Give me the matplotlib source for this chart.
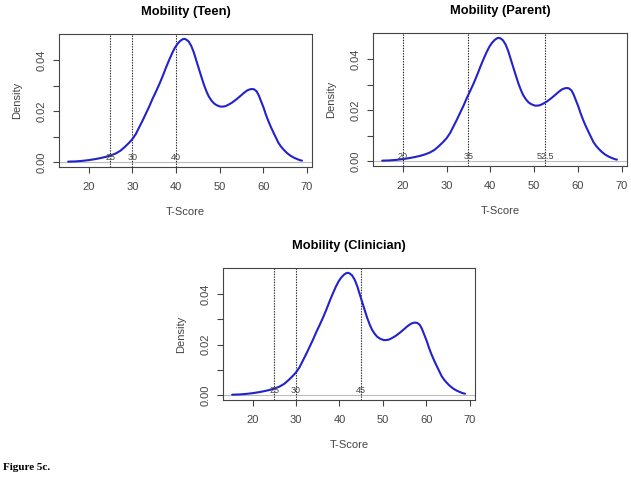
import matplotlib
matplotlib.use("Agg")
import matplotlib.pyplot as plt

# Density curve (same in all panels)
t_score = [15.3, 17.0, 18.5, 20.0, 21.5, 22.7, 24.0, 25.0, 26.2, 27.3, 28.3, 29.2,
           30.0, 30.8, 31.5, 32.3, 33.1, 33.9, 34.6, 35.4, 36.2, 37.0, 37.7, 38.5,
           39.2, 39.8, 40.4, 41.0, 41.5, 41.9, 42.3, 42.9, 43.5, 44.1, 44.8, 45.6,
           46.4, 47.0, 47.5, 48.1, 48.7, 49.4, 50.2, 50.8, 51.4, 52.1, 52.9, 53.9,
           54.8, 55.6, 56.4, 57.0, 57.5, 57.9, 58.5, 59.0, 59.5, 60.1, 60.6, 61.2,
           61.8, 62.4, 63.0, 63.5, 64.1, 64.7, 65.4, 66.2, 67.0, 67.8, 68.4, 68.9]
density = [0.0002, 0.0003, 0.0005, 0.0008, 0.0012, 0.0016, 0.0021, 0.0026, 0.0034, 0.0045, 0.0060, 0.0075,
           0.0090, 0.0110, 0.0134, 0.0161, 0.0190, 0.0219, 0.0247, 0.0276, 0.0306, 0.0339, 0.0370, 0.0403,
           0.0430, 0.0450, 0.0465, 0.0476, 0.0482, 0.0484, 0.0482, 0.0474, 0.0457, 0.0431, 0.0392, 0.0348,
           0.0305, 0.0278, 0.0259, 0.0243, 0.0231, 0.0223, 0.0218, 0.0218, 0.0220, 0.0226, 0.0234, 0.0247,
           0.0260, 0.0272, 0.0282, 0.0286, 0.0287, 0.0286, 0.0278, 0.0262, 0.0240, 0.0214, 0.0188, 0.0161,
           0.0137, 0.0115, 0.0094, 0.0076, 0.0061, 0.0049, 0.0037, 0.0026, 0.0018, 0.0012, 0.0008, 0.0006]

titles = ["Mobility (Teen)", "Mobility (Parent)", "Mobility (Clinician)"]
cutoffs = [[25, 30, 40], [20, 35, 52.5], [25, 30, 45]]
cutoff_labels = [["25", "30", "40"], ["20", "35", "52.5"], ["25", "30", "45"]]
x_ticks = [20, 30, 40, 50, 60, 70]
y_ticks = [0.00, 0.01, 0.02, 0.03, 0.04]
y_tick_labels = ["0.00", "", "0.02", "", "0.04"]

plt.rcParams["font.family"] = ["Liberation Sans", "DejaVu Sans"]

fig = plt.figure(figsize=(6.31, 4.82), dpi=100)
W, H = 631, 482
boxes = [(59, 34, 312, 167), (373, 33, 627, 166), (223, 268, 475, 400)]

axis_col = "#444444"
for i, (x0, y0, x1, y1) in enumerate(boxes):
    ax = fig.add_axes([x0 / W, 1 - y1 / H, (x1 - x0) / W, (y1 - y0) / H])
    ax.plot(t_score, density, color="#2222cc", lw=1.5, zorder=3,
            solid_joinstyle="round", solid_capstyle="round")
    ax.axhline(0, color="#bbbbbb", lw=0.8, zorder=1)
    for c, lab in zip(cutoffs[i], cutoff_labels[i]):
        ax.axvline(c, color="#222222", lw=0.8, ls=(0, (1.2, 1.2)), zorder=2)
        ax.text(c, 0.0, lab, ha="center", va="bottom", fontsize=6.5,
                color="#444444", zorder=4)
    ax.set_xlim(13.2, 71.2)
    ax.set_ylim(-0.0019, 0.0503)
    ax.set_xticks(x_ticks)
    ax.set_yticks(y_ticks)
    ax.set_yticklabels(y_tick_labels, rotation=90, va="center")
    ax.tick_params(direction="out", length=4, width=0.8, colors=axis_col,
                   labelsize=8, labelcolor="#444444")
    ax.tick_params(axis="x", pad=6.5)
    ax.tick_params(axis="y", pad=5)
    for s in ax.spines.values():
        s.set_color(axis_col)
        s.set_linewidth(0.8)
    ax.set_xlabel("T-Score", fontsize=8, color="#444444", labelpad=11)
    ax.set_ylabel("Density", fontsize=8, color="#444444", labelpad=10)
    ax.set_title(titles[i], fontsize=9.3, fontweight="bold", pad=14)

fig.text(3 / W, 1 - 467 / H, "Figure 5c.", fontsize=8, fontweight="bold",
         family=["Liberation Serif", "DejaVu Serif"], va="center", ha="left")

fig.savefig("out.png", dpi=100)
